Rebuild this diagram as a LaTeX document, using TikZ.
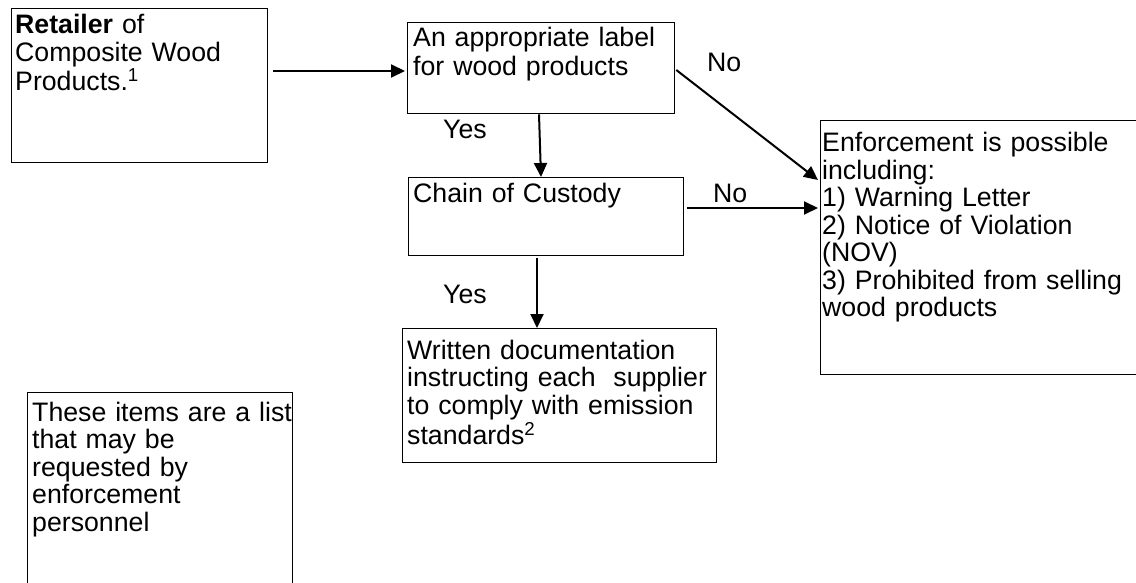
\documentclass[tikz,border=0pt]{standalone}
\usepackage{fontspec}
\setmainfont{Liberation Sans}
\usetikzlibrary{arrows.meta,calc}

\begin{document}
\begin{tikzpicture}[
    x=1pt, y=-1pt,
    box/.style={draw=black, line width=1.3pt, inner sep=0pt, anchor=north west},
    txt/.style={inner sep=0pt, anchor=base west, text width=330pt, align=left,
                font=\fontsize{26.7}{27.5}\selectfont},
    lbl/.style={inner sep=0pt, anchor=base west, font=\fontsize{26.7}{27.5}\selectfont},
    arr/.style={line width=2pt, -{Triangle[length=14pt,width=13pt]}}
  ]
  \useasboundingbox (0,0) rectangle (1136,583);

  % boxes
  \node[box, minimum width=256pt, minimum height=154pt] (ret)   at (11,8)   {};
  \node[box, minimum width=267pt, minimum height=91pt]  (label) at (407,22) {};
  \node[box, minimum width=275pt, minimum height=78pt]  (chain) at (408,177) {};
  \node[box, minimum width=314pt, minimum height=134pt] (doc)   at (402,328) {};
  \node[box, minimum width=340pt, minimum height=254pt] (enf)   at (820,120) {};
  \node[box, minimum width=265pt, minimum height=220pt] (note)  at (27,392) {};

  % box texts
  \node[txt] (retT) at ($(ret.north west)+(4,26)$)
    {\textbf{Retailer} of\\Composite Wood\\[2pt]Products.\textsuperscript{1}};
  \node[txt] (labelT) at ($(label.north west)+(6,25)$)
    {An appropriate label\\[1pt]for wood products};
  \node[txt] (chainT) at ($(chain.north west)+(5,26)$)
    {Chain of Custody};
  \node[txt] (docT) at ($(doc.north west)+(5,31)$)
    {Written documentation\\instructing each\ \ supplier\\to comply with emission\\[2pt]standards\textsuperscript{2}};
  \node[txt] (enfT) at ($(enf.north west)+(2,32)$)
    {Enforcement is possible\\including:\\1) Warning Letter\\2) Notice of Violation\\(NOV)\\3) Prohibited from selling\\wood products};
  \node[txt] (noteT) at ($(note.north west)+(5,29)$)
    {These items are a list\\that may be\\requested by\\enforcement\\personnel};

  % branch labels
  \node[lbl] (yes1) at (443,139) {Yes};
  \node[lbl] (no1)  at (707,72)  {No};
  \node[lbl] (no2)  at (713,203) {No};
  \node[lbl] (yes2) at (443,303) {Yes};

  % connectors
  \draw[arr] ($(ret.north east)+(5,63)$) -- ($(label.north west)+(-2,49)$);
  \draw[arr] ($(label.south west)+(132,0)$) -- ($(chain.north west)+(133,0)$);
  \draw[arr] ($(label.north east)+(1,48)$) -- ($(enf.north west)+(-2,60)$);
  \draw[arr] ($(chain.north east)+(3,31)$) -- ($(enf.north west)+(-2,88)$);
  \draw[arr] ($(chain.south west)+(129,2)$) -- ($(doc.north west)+(135,0)$);
\end{tikzpicture}
\end{document}
